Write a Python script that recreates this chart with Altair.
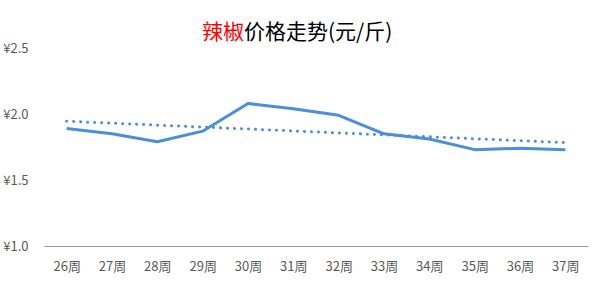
import altair as alt
import pandas as pd

weeks = ["26周", "27周", "28周", "29周", "30周", "31周", "32周", "33周", "34周", "35周", "36周", "37周"]
prices = [1.89, 1.85, 1.79, 1.87, 2.08, 2.04, 1.99, 1.85, 1.81, 1.73, 1.74, 1.73]
y_ticks = [1.0, 1.5, 2.0, 2.5]
title_red = "辣椒"
title_black = "价格走势(元/斤)"

df = pd.DataFrame({"idx": list(range(len(weeks))), "week": weeks, "price": prices})

FONT = "Noto Sans CJK SC"
BLUE = "#4A8FD8"
label_expr = "[" + ",".join("'%s'" % w for w in weeks) + "][datum.value]"

x_enc = alt.X("idx:Q",
              scale=alt.Scale(domain=[-0.5, len(weeks) - 0.5], nice=False, zero=False),
              axis=alt.Axis(values=list(range(len(weeks))), labelExpr=label_expr, title=None,
                            grid=False, ticks=False, domainColor="#9a9a9a", domainWidth=1,
                            labelColor="#595959", labelFont=FONT, labelFontSize=13,
                            labelPadding=14, labelAngle=0))
y_enc = alt.Y("price:Q",
              scale=alt.Scale(domain=[1.0, 2.5], nice=False, zero=False),
              axis=alt.Axis(values=y_ticks, labelExpr="'¥' + format(datum.value, '.1f')",
                            title=None, grid=False, ticks=False, domain=False,
                            labelColor="#595959", labelFont=FONT, labelFontSize=13,
                            labelPadding=16))

base = alt.Chart(df)

line = base.mark_line(color=BLUE, strokeWidth=3, strokeJoin="round").encode(x=x_enc, y=y_enc)

trend = base.transform_regression("idx", "price", method="linear").mark_line(
    color=BLUE, strokeWidth=3, strokeCap="round", strokeDash=[0.1, 6.9]
).encode(x="idx:Q", y="price:Q")

t1 = alt.Chart(pd.DataFrame({"t": [title_red]})).mark_text(
    font=FONT, fontSize=21, color="#ff0000", align="right", baseline="middle"
).encode(text="t:N", x=alt.value(200), y=alt.value(-15))

t2 = alt.Chart(pd.DataFrame({"t": [title_black]})).mark_text(
    font=FONT, fontSize=21, color="#000000", align="left", baseline="middle"
).encode(text="t:N", x=alt.value(200), y=alt.value(-15))

chart = alt.layer(trend, line, t1, t2).properties(
    width=544, height=198,
    autosize=alt.AutoSizeParams(type="none"),
    padding={"left": 44, "top": 48, "right": 12, "bottom": 36},
    background="white",
).configure_view(stroke=None)

chart.save("out.html", embed_options={"renderer": "svg", "actions": False})
